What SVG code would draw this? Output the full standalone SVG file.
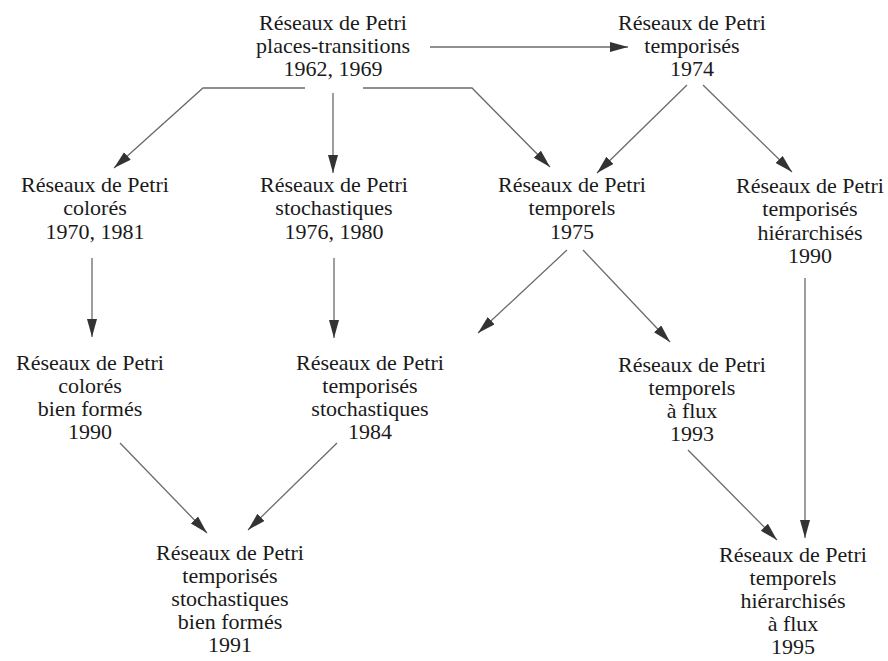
<svg xmlns="http://www.w3.org/2000/svg" width="888" height="661" viewBox="0 0 888 661">
<style>
.t text{font-family:'Liberation Serif','DejaVu Serif',serif;font-size:22px;fill:#1a1a1a;text-anchor:middle}
.c{fill:none;stroke:#6a6a6a;stroke-width:1.3;marker-end:url(#ah)}
</style>
<defs>
<marker id="ah" markerUnits="userSpaceOnUse" markerWidth="20" markerHeight="12" refX="18" refY="5" orient="auto">
<path d="M0,0 L18,5 L0,10 z" fill="#333"/>
</marker>
</defs>
<rect width="888" height="661" fill="#fff"/>
<g id="connectors">
<path class="c" d="M430,47 L628,47"/>
<path class="c" d="M305,88 L203,88 L114,168"/>
<path class="c" d="M333,93 L333,173"/>
<path class="c" d="M363,88 L472,88 L550,167"/>
<path class="c" d="M687,85 L597,173"/>
<path class="c" d="M703,85 L792,172"/>
<path class="c" d="M92,258 L92,337"/>
<path class="c" d="M334,258 L334,338"/>
<path class="c" d="M567,250 L478,333"/>
<path class="c" d="M583,250 L670,342"/>
<path class="c" d="M805,278 L805,538"/>
<path class="c" d="M120,443 L207,533"/>
<path class="c" d="M337,443 L248,530"/>
<path class="c" d="M688,450 L777,540"/>
</g>
<g class="t" font-family="Liberation Serif, DejaVu Serif, serif">
<g id="n_pt"><text x="333" y="30">Réseaux de Petri</text><text x="333" y="53">places-transitions</text><text x="333" y="76">1962, 1969</text></g>
<g id="n_temporises"><text x="692" y="30">Réseaux de Petri</text><text x="692" y="53">temporisés</text><text x="692" y="76">1974</text></g>
<g id="n_colores"><text x="95" y="192">Réseaux de Petri</text><text x="95" y="215">colorés</text><text x="95" y="239">1970, 1981</text></g>
<g id="n_stoch"><text x="334" y="192">Réseaux de Petri</text><text x="334" y="215">stochastiques</text><text x="334" y="239">1976, 1980</text></g>
<g id="n_temporels"><text x="572" y="192">Réseaux de Petri</text><text x="572" y="215">temporels</text><text x="572" y="239">1975</text></g>
<g id="n_hier"><text x="810" y="193">Réseaux de Petri</text><text x="810" y="216">temporisés</text><text x="810" y="240">hiérarchisés</text><text x="810" y="263">1990</text></g>
<g id="n_cbf"><text x="90" y="370">Réseaux de Petri</text><text x="90" y="393">colorés</text><text x="90" y="416">bien formés</text><text x="90" y="439">1990</text></g>
<g id="n_tstoch"><text x="370" y="370">Réseaux de Petri</text><text x="370" y="393">temporisés</text><text x="370" y="416">stochastiques</text><text x="370" y="439">1984</text></g>
<g id="n_flux"><text x="692" y="372">Réseaux de Petri</text><text x="692" y="395">temporels</text><text x="692" y="418">à flux</text><text x="692" y="441">1993</text></g>
<g id="n_tsbf"><text x="230" y="560">Réseaux de Petri</text><text x="230" y="583">temporisés</text><text x="230" y="606">stochastiques</text><text x="230" y="629">bien formés</text><text x="230" y="652">1991</text></g>
<g id="n_thf"><text x="793" y="562">Réseaux de Petri</text><text x="793" y="585">temporels</text><text x="793" y="608">hiérarchisés</text><text x="793" y="631">à flux</text><text x="793" y="654">1995</text></g>
</g>
</svg>
